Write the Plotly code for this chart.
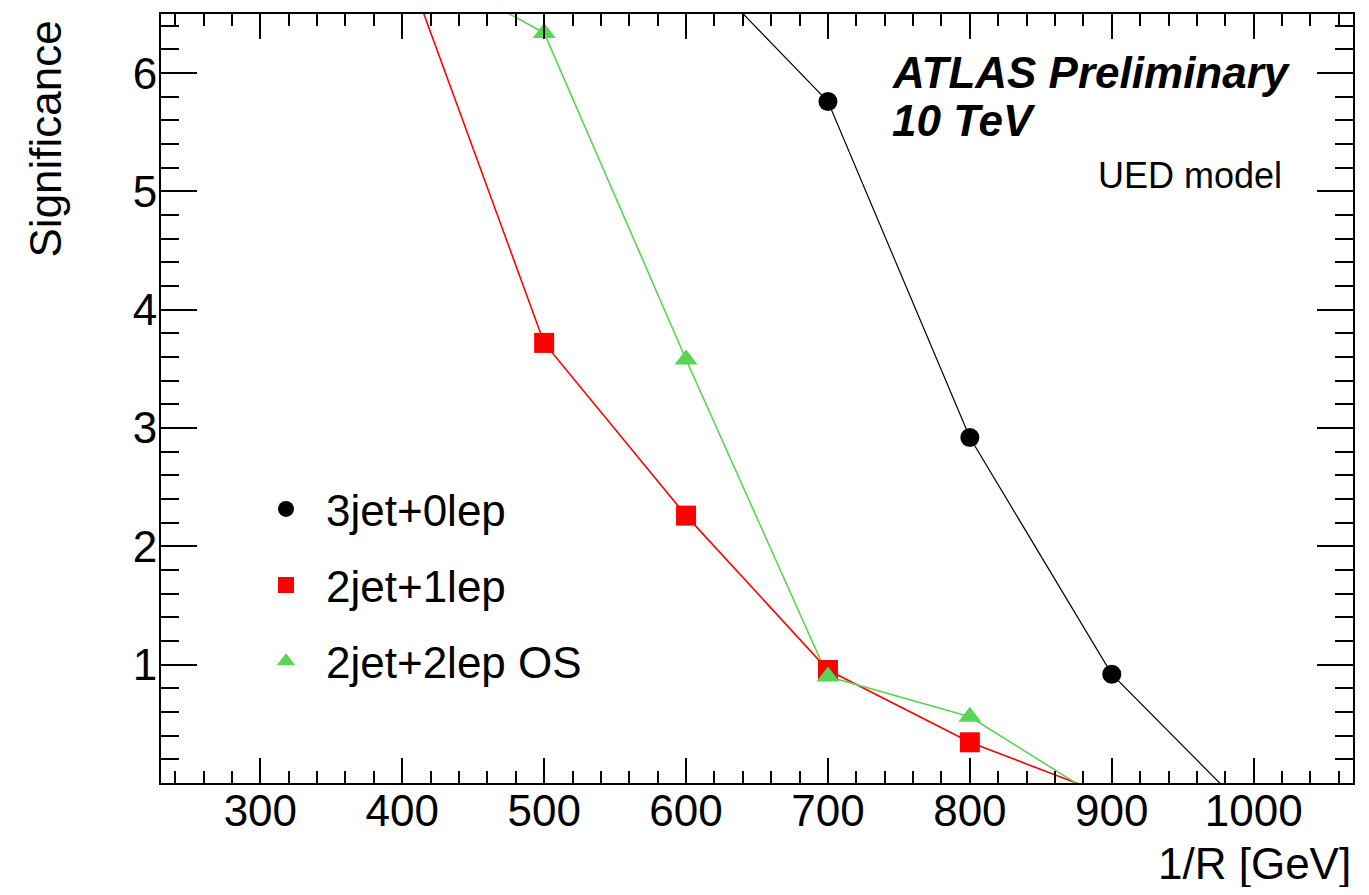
import plotly.graph_objects as go

# ---- data ----
x_black = [600, 700, 800, 900, 1000]
y_black = [7.0, 5.76, 2.92, 0.92, -0.29]

x_red = [400, 500, 600, 700, 800, 900]
y_red = [7.0, 3.72, 2.26, 0.955, 0.344, -0.115]

x_green = [400, 500, 600, 700, 800, 900]
y_green = [7.0, 6.34, 3.58, 0.90, 0.56, -0.19]

names = ["3jet+0lep", "2jet+1lep", "2jet+2lep OS"]
x_ticks = [300, 400, 500, 600, 700, 800, 900, 1000]
y_ticks = [1, 2, 3, 4, 5, 6]

FONT = "Liberation Sans, Arial, Helvetica, sans-serif"
BLACK = "#000000"
RED = "#ff0000"
GREEN = "#59d454"

series = [
    (x_black, y_black, names[0], BLACK, "circle", 19, 1.2),
    (x_red, y_red, names[1], RED, "square", 20, 1.6),
    (x_green, y_green, names[2], GREEN, "triangle-up", 20, 1.6),
]

fig = go.Figure()
for xs, ys, nm, col, sym, ms, lw in series:
    fig.add_trace(go.Scatter(
        x=xs, y=ys, mode="lines", line=dict(color=col, width=lw),
        showlegend=False, hoverinfo="skip"))
for xs, ys, nm, col, sym, ms, lw in series:
    fig.add_trace(go.Scatter(
        x=xs, y=ys, mode="markers", name=nm, legendgroup=nm,
        marker=dict(color=col, symbol=sym, size=ms, line=dict(width=0))))

axis_common = dict(
    showgrid=False, zeroline=False, showline=True, linecolor="black",
    linewidth=2, mirror="ticks", ticks="inside", tickcolor="black",
    tickwidth=2, tickfont=dict(family=FONT, size=44, color="black"),
)

fig.update_xaxes(
    range=[230, 1070], tickvals=x_ticks, ticklen=25, ticklabelstandoff=-12,
    minor=dict(ticks="inside", dtick=20, tick0=0, ticklen=12,
               tickwidth=2, tickcolor="black"),
    **axis_common)
fig.update_yaxes(
    range=[0, 6.5], tickvals=y_ticks, ticklen=36, ticklabelstandoff=-7,
    minor=dict(ticks="inside", dtick=0.2, tick0=0, ticklen=18,
               tickwidth=2, tickcolor="black"),
    **axis_common)

# page offset (body margin) and target plot area in screen pixels
OFF = 8
W, H = 1369 - 2 * OFF, 895 - 2 * OFF
PL, PR, PT, PB = 161, 1353, 12, 783
L, T = PL - OFF, PT - OFF
R = W - (PR - OFF)
B = H - (PB - OFF)
pw, ph = PR - PL, PB - PT

def px(xs):
    return (xs - PL) / pw

def py(ys):
    return (PB - ys) / ph

annotations = [
    dict(text="Significance", x=px(45), y=py(17), xref="paper", yref="paper",
         xanchor="center", yanchor="top", textangle=-90, showarrow=False,
         font=dict(family=FONT, size=44, color="black")),
    dict(text="1/R [GeV]", x=px(1353), y=py(864), xref="paper", yref="paper",
         xanchor="right", yanchor="middle", showarrow=False,
         font=dict(family=FONT, size=44, color="black")),
    dict(text="<b><i>ATLAS Preliminary</i></b>", x=px(890), y=py(71),
         xref="paper", yref="paper", xanchor="left", yanchor="middle",
         showarrow=False, font=dict(family=FONT, size=44, color="black")),
    dict(text="<b><i>10 TeV</i></b>", x=px(890), y=py(119),
         xref="paper", yref="paper", xanchor="left", yanchor="middle",
         showarrow=False, font=dict(family=FONT, size=44, color="black")),
    dict(text="UED model", x=px(1284), y=py(174),
         xref="paper", yref="paper", xanchor="right", yanchor="middle",
         showarrow=False, font=dict(family=FONT, size=36, color="black")),
]

fig.update_layout(
    width=W, height=H,
    margin=dict(l=L, r=R, t=T, b=B, pad=0),
    paper_bgcolor="white", plot_bgcolor="white",
    annotations=annotations,
    showlegend=True,
    legend=dict(x=px(246), y=py(473), xanchor="left", yanchor="top",
                bgcolor="rgba(0,0,0,0)", borderwidth=0,
                font=dict(family=FONT, size=44, color="black"),
                traceorder="grouped", tracegroupgap=16,
                itemsizing="trace", itemwidth=70),
)

fig.write_html("out.html")
